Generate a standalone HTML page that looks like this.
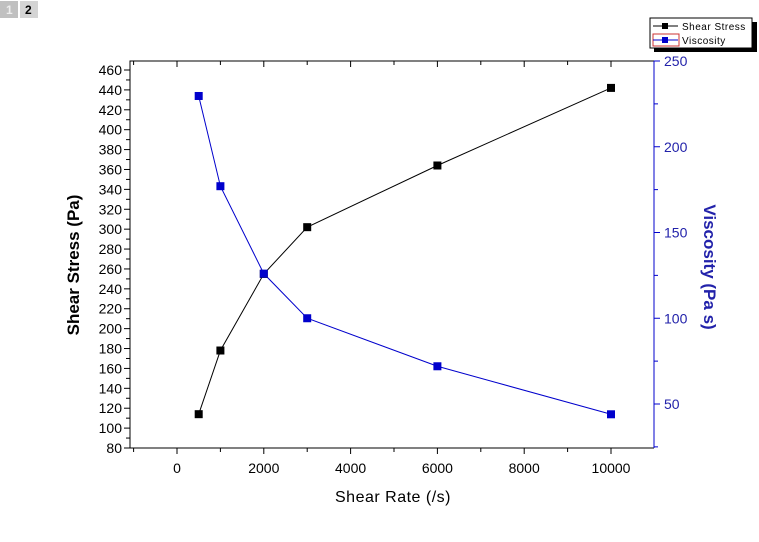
<!DOCTYPE html>
<html><head><meta charset="utf-8"><style>
body{margin:0;background:#fff;width:759px;height:537px;overflow:hidden;font-family:"Liberation Sans",Arial,sans-serif}
</style></head><body>
<svg id="c" width="759" height="537" xmlns="http://www.w3.org/2000/svg">
<g>
<rect x="0" y="1" width="18" height="17" fill="#c0c0c0"/>
<text x="6" y="14" font-size="12" fill="#eee" font-weight="bold">1</text>
<rect x="20" y="1" width="18" height="17" fill="#d4d4d4"/>
<text x="25" y="14" font-size="12" fill="#000" font-weight="bold">2</text>
</g>
<g id="plot"></g>
<g>
<rect x="654" y="22" width="103" height="30" fill="#000"/>
<rect x="650" y="18" width="102" height="30" fill="#fff" stroke="#000"/>
<line x1="653" y1="26" x2="678" y2="26" stroke="#000"/><rect x="662" y="23" width="6" height="6" fill="#000"/>
<text x="682" y="30" font-size="10" letter-spacing="0.5">Shear Stress</text>
<rect x="653" y="34" width="26" height="12" fill="none" stroke="#c33"/>
<line x1="653" y1="40" x2="678" y2="40" stroke="#00c"/><rect x="662" y="37" width="6" height="6" fill="#00c"/>
<text x="682" y="44" font-size="10" letter-spacing="0.5">Viscosity</text>
</g>
</svg>
<script>
const shearRate=[500,1000,2000,3000,6000,10000];
const shearStress=[114,178,255,302,364,442];
const viscosity=[229.6,177,126,100,72,44];
const xTicks=[0,2000,4000,6000,8000,10000];
const yTicks=[80,100,120,140,160,180,200,220,240,260,280,300,320,340,360,380,400,420,440,460];
const y2Ticks=[50,100,150,200,250];
const L=130,R=654,T=61,B=448;
const X=v=>177+(v)*(611-177)/10000;
const Y=v=>448-(v-80)*(448-70)/380;
const Y2=v=>61+(250-v)*1.715;
const g=document.getElementById('plot');
const NS='http://www.w3.org/2000/svg';
function el(t,a,p){const e=document.createElementNS(NS,t);for(const k in a)e.setAttribute(k,a[k]);(p||g).appendChild(e);return e;}
let e;
e=el('path',{d:`M${L},${B}V${T}H${R}`,stroke:'#000',fill:'none'});


e=el('line',{x1:L,y1:B,x2:R,y2:B,stroke:'#000'});


e=el('line',{x1:R,y1:T,x2:R,y2:B,stroke:'#00c'});


for(let v=-1000;v<=11000;v+=1000){const x=X(v);if(x<L||x>R)continue;const maj=v%2000==0;
el('line',{x1:x,y1:B,x2:x,y2:B+(maj?6:4),stroke:'#000'});el('line',{x1:x,y1:T,x2:x,y2:T+(maj?6:4),stroke:'#000'});}
xTicks.forEach(v=>{e=el('text',{x:X(v),y:473,'font-size':14,'text-anchor':'middle'});e.textContent=v;

});
for(let v=80;v<=460;v+=10){const y=Y(v);el('line',{x1:L,y1:y,x2:L-(v%20==0?6:4),y2:y,stroke:'#000'});}
yTicks.forEach(v=>{e=el('text',{x:L-8,y:Y(v)+5,'font-size':14,'text-anchor':'end'});e.textContent=v;

});
for(let v=25;v<=250;v+=25){const y=Y2(v);if(y>B)continue;el('line',{x1:R,y1:y,x2:R+(v%50==0?6:4),y2:y,stroke:'#00c'});}
y2Ticks.forEach(v=>{e=el('text',{x:R+10,y:Y2(v)+5,'font-size':14,fill:'#22a'});e.textContent=v;

});
e=el('text',{x:393,y:502,'font-size':16,'text-anchor':'middle','letter-spacing':'0.5'});e.textContent='Shear Rate (/s)';


e=el('text',{x:0,y:0,'font-size':17,'font-weight':'bold','text-anchor':'middle',transform:'translate(79,265) rotate(-90)'});e.textContent='Shear Stress (Pa)';


e=el('text',{x:0,y:0,'font-size':17,'font-weight':'bold','text-anchor':'middle',fill:'#22a',transform:'translate(704,267) rotate(90)'});e.textContent='Viscosity (Pa s)';


e=el('polyline',{points:shearRate.map((v,i)=>X(v)+','+Y(shearStress[i])).join(' '),fill:'none',stroke:'#000'});


e=el('polyline',{points:shearRate.map((v,i)=>X(v)+','+Y2(viscosity[i])).join(' '),fill:'none',stroke:'#00c'});


shearRate.forEach((v,i)=>{e=el('rect',{x:X(v)-4,y:Y(shearStress[i])-4,width:8,height:8,fill:'#000'});

});
shearRate.forEach((v,i)=>{e=el('rect',{x:X(v)-4,y:Y2(viscosity[i])-4,width:8,height:8,fill:'#00c'});

});
</script>
</body></html>
